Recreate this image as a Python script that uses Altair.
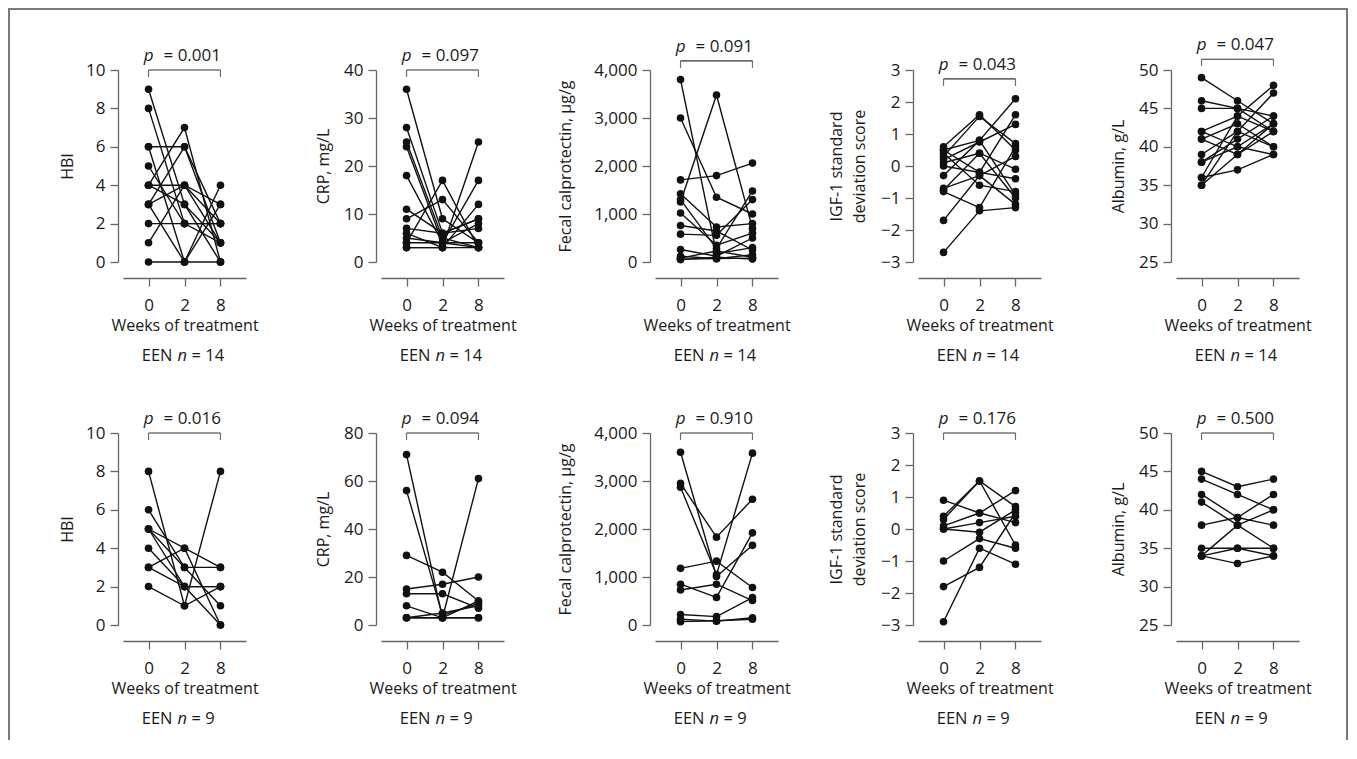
import altair as alt
import pandas as pd

WEEKS = [0, 2, 8]

# ---- Row 1: EEN n = 14 ----
hbi14_w0 = [9, 8, 6, 6, 5, 4, 4, 3, 3, 3, 2, 1, 0, 4]
hbi14_w2 = [3, 2, 6, 0, 2, 4, 7, 4, 0, 6, 2, 4, 0, 3]
hbi14_w8 = [1, 1, 2, 3, 2, 2, 0, 1, 4, 1, 2, 3, 0, 0]

crp14_w0 = [36, 28, 25, 24, 18, 11, 9, 7, 6, 5, 4, 4, 3, 3]
crp14_w2 = [9, 6, 5, 4, 4, 6, 13, 6, 3, 4, 17, 4, 3, 3]
crp14_w8 = [4, 9, 3, 8, 3, 7, 4, 9, 12, 17, 3, 4, 25, 3]

fc14_w0 = [3800, 3000, 1710, 1420, 1300, 1250, 1020, 760, 580, 260, 120, 80, 60, 50]
fc14_w2 = [175, 1350, 1800, 730, 280, 3480, 350, 645, 555, 120, 70, 230, 70, 100]
fc14_w8 = [300, 1000, 2060, 800, 1480, 700, 600, 250, 1300, 500, 150, 100, 80, 60]

igf14_w0 = [0.6, 0.5, 0.4, 0.3, 0.2, 0.1, 0.0, -0.3, -0.7, -0.75, -0.8, 0.5, -1.7, -2.7]
igf14_w2 = [1.6, 0.8, -0.6, 1.55, 0.75, 0.4, -0.2, 0.8, -0.3, 0.4, -1.3, -0.2, -0.3, -1.4]
igf14_w8 = [0.5, 2.1, -0.8, 0.7, 1.3, -0.1, 1.6, -0.9, 0.3, -1.0, 0.6, -0.4, -1.2, -1.3]

alb14_w0 = [49, 46, 45, 42, 42, 41, 41, 39, 38, 38, 36, 36, 35, 35]
alb14_w2 = [46, 45, 45, 44, 40, 43, 39, 42, 41, 40, 44, 37, 39, 42]
alb14_w8 = [43, 42, 44, 48, 43, 40, 42, 47, 44, 39, 42, 39, 43, 40]

# ---- Row 2: EEN n = 9 ----
hbi9_w0 = [8, 6, 5, 5, 5, 4, 3, 2, 3]
hbi9_w2 = [1, 3, 4, 3, 2, 2, 4, 1, 2]
hbi9_w8 = [2, 3, 3, 1, 2, 0, 0, 8, 2]

crp9_w0 = [71, 56, 29, 15, 13, 8, 3, 3, 3]
crp9_w2 = [3, 4, 22, 17, 13, 3, 3, 5, 3]
crp9_w8 = [61, 9, 10, 20, 7, 10, 3, 8, 3]

fc9_w0 = [3600, 2950, 2870, 1180, 850, 730, 220, 120, 70]
fc9_w2 = [1010, 1830, 1050, 1330, 575, 850, 175, 80, 90]
fc9_w8 = [1660, 2620, 3580, 780, 1920, 510, 570, 150, 120]

igf9_w0 = [0.9, 0.4, 0.3, 0.1, 0.0, 0.0, -1.0, -1.8, -2.9]
igf9_w2 = [0.5, 1.5, 1.5, 0.5, 0.2, -0.1, -0.3, -1.2, -0.6]
igf9_w8 = [0.2, 0.7, -0.5, 1.2, 0.4, 0.6, -0.6, 0.5, -1.1]

alb9_w0 = [45, 44, 42, 41, 38, 35, 34, 34, 34]
alb9_w2 = [43, 42, 39, 38, 39, 35, 38, 33, 35]
alb9_w8 = [44, 40, 42, 35, 38, 34, 40, 34, 35]

# axis definitions
hbi_ticks = [0, 2, 4, 6, 8, 10]
crp14_ticks = [0, 10, 20, 30, 40]
crp9_ticks = [0, 20, 40, 60, 80]
fc_ticks = [0, 1000, 2000, 3000, 4000]
igf_ticks = [-3, -2, -1, 0, 1, 2, 3]
alb_ticks = [25, 30, 35, 40, 45, 50]

titles = ["HBI", "CRP, mg/L", "Fecal calprotectin, \u00b5g/g",
          ["IGF-1 standard", "deviation score"], "Albumin, g/L"]
fmts = ["d", "d", ",d", "d", "d"]
y_title_pad = [10, 12, 20, 13, 12]

row1_p = ["= 0.001", "= 0.097", "= 0.091", "= 0.043", "= 0.047"]
row2_p = ["= 0.016", "= 0.094", "= 0.910", "= 0.176", "= 0.500"]
row1_bracket = [10, 40, 4190, 2.72, 51.4]
row2_bracket = [10, 80, 4000, 3, 50]

ROWS = [
    dict(n="= 14", p=row1_p, bracket=row1_bracket,
         ticks=[hbi_ticks, crp14_ticks, fc_ticks, igf_ticks, alb_ticks],
         data=[(hbi14_w0, hbi14_w2, hbi14_w8), (crp14_w0, crp14_w2, crp14_w8),
               (fc14_w0, fc14_w2, fc14_w8), (igf14_w0, igf14_w2, igf14_w8),
               (alb14_w0, alb14_w2, alb14_w8)]),
    dict(n="= 9", p=row2_p, bracket=row2_bracket,
         ticks=[hbi_ticks, crp9_ticks, fc_ticks, igf_ticks, alb_ticks],
         data=[(hbi9_w0, hbi9_w2, hbi9_w8), (crp9_w0, crp9_w2, crp9_w8),
               (fc9_w0, fc9_w2, fc9_w8), (igf9_w0, igf9_w2, igf9_w8),
               (alb9_w0, alb9_w2, alb9_w8)]),
]

W, H = 123, 192
FONT = "Open Sans"
INK = "#111111"
TXT = "#1a1a1a"
AXC = "#666666"
FRAME = "#7a7a7a"

COL_L = [115, 115, 131, 120, 115]
COL_R = [20, 20, 20, 20, 49]
ROW_T = [62, 61]
ROW_B = [110, 115]


def frame_rect(x1, x2, y1, y2, opacity=1.0):
    return alt.Chart(pd.DataFrame({"k": [0]})).mark_rect(
        color=FRAME, opacity=opacity
    ).encode(x=alt.value(x1), x2=alt.value(x2), y=alt.value(y1), y2=alt.value(y2))


def panel(r, c):
    row = ROWS[r]
    w0, w2, w8 = row["data"][c]
    recs = []
    for s, vals in enumerate(zip(w0, w2, w8)):
        for wk, v in zip(WEEKS, vals):
            recs.append({"subject": s, "week": wk, "value": v})
    df = pd.DataFrame(recs)
    ticks = row["ticks"][c]

    xenc = alt.X("week:O", scale=alt.Scale(type="point", padding=0.71),
                 axis=alt.Axis(title="Weeks of treatment", labelAngle=0, offset=16,
                               tickSize=8, labelPadding=11, titlePadding=4))
    yenc = alt.Y("value:Q",
                 scale=alt.Scale(domain=[ticks[0], ticks[-1]], nice=False, zero=False),
                 axis=alt.Axis(title=titles[c], values=ticks, format=fmts[c], offset=5,
                               tickSize=8, labelPadding=5, titlePadding=y_title_pad[c]))

    lines = alt.Chart(df).mark_line(color=INK, strokeWidth=1.4).encode(
        x=xenc, y=yenc, detail="subject:N", order="week:Q")
    points = alt.Chart(df).mark_circle(size=58, color=INK, opacity=1).encode(
        x=xenc, y=yenc)

    br = row["bracket"][c]
    ann_span = pd.DataFrame({"week": [0], "week2": [8], "value": [br]})
    ann_ends = pd.DataFrame({"week": [0, 8], "value": [br, br]})
    ann_mid = pd.DataFrame({"week": [2], "value": [br]})

    rule = alt.Chart(ann_span).mark_rule(color="#333333", strokeWidth=1.2).encode(
        x=xenc, x2="week2", y=yenc)
    ends = alt.Chart(ann_ends).mark_tick(orient="vertical", size=7, thickness=1.2,
                                         yOffset=3.5, color="#333333").encode(x=xenc, y=yenc)
    p1 = alt.Chart(ann_mid).mark_text(text="p", fontStyle="italic", align="right",
                                      baseline="alphabetic", dx=-31, dy=-9, font=FONT,
                                      fontSize=17, color=TXT).encode(x=xenc, y=yenc)
    p2 = alt.Chart(ann_mid).mark_text(text=row["p"][c], align="left",
                                      baseline="alphabetic", dx=-21, dy=-9, font=FONT,
                                      fontSize=17, color=TXT).encode(x=xenc, y=yenc)
    e1 = alt.Chart(ann_mid).mark_text(text="EEN", align="right", baseline="alphabetic",
                                      dx=-12, font=FONT, fontSize=16.5, color=TXT).encode(
        x=xenc, y=alt.value(H + 99))
    e2 = alt.Chart(ann_mid).mark_text(text="n", fontStyle="italic", align="left",
                                      baseline="alphabetic", dx=-7, font=FONT,
                                      fontSize=16.5, color=TXT).encode(
        x=xenc, y=alt.value(H + 99))
    e3 = alt.Chart(ann_mid).mark_text(text=row["n"], align="left", baseline="alphabetic",
                                      dx=7, font=FONT, fontSize=16.5, color=TXT).encode(
        x=xenc, y=alt.value(H + 99))

    L, R, T, B = COL_L[c], COL_R[c], ROW_T[r], ROW_B[r]
    layers = [lines, points, rule, ends, p1, p2, e1, e2, e3]
    if r == 0:
        layers.append(frame_rect(-L, W + R, -T, -T + 2))
    else:
        layers.append(frame_rect(-L, W + R, 0, 1, opacity=0))
    if c == 0:
        layers.append(frame_rect(-L, -L + 2, -T, H + B))
    if c == 4:
        layers.append(frame_rect(W + R - 2, W + R, -T, H + B))

    return alt.layer(*layers).properties(width=W, height=H)


rows = [alt.hconcat(*[panel(r, c) for c in range(5)], spacing=0) for r in range(2)]

chart = alt.vconcat(*rows, spacing=0).properties(
    padding={"left": 0, "top": 0, "right": 0, "bottom": 0}
).configure(font=FONT).configure_view(strokeWidth=0).configure_axis(
    grid=False,
    domainColor=AXC, tickColor=AXC, domainWidth=1.3, tickWidth=1.3,
    labelFont=FONT, labelFontSize=17, labelColor=TXT,
    titleFont=FONT, titleFontSize=16, titleFontWeight="normal", titleColor=TXT,
    titleLineHeight=23,
)

chart.save("out.html", embed_options={"renderer": "svg", "actions": False})
